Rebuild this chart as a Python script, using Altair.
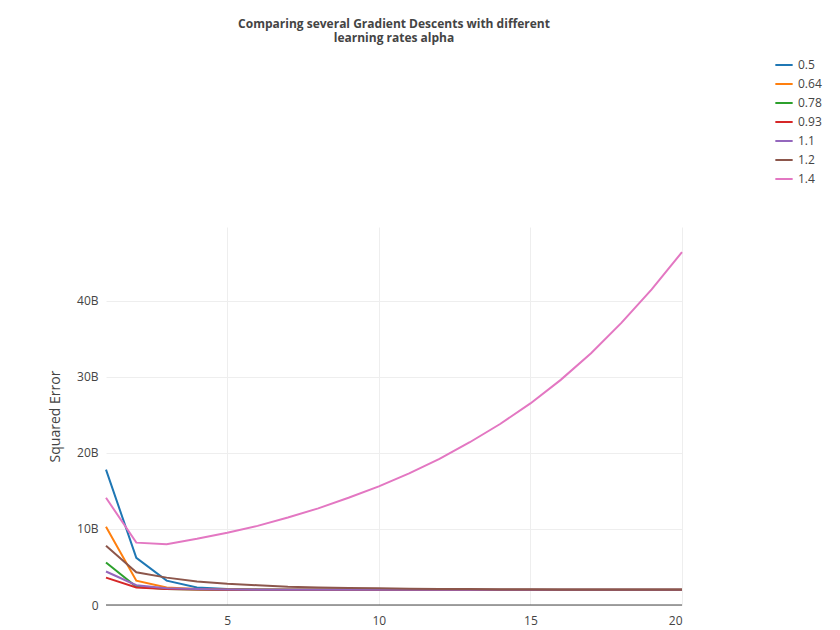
import altair as alt
import pandas as pd

iters = list(range(1, 21))
alphas = ["0.5", "0.64", "0.78", "0.93", "1.1", "1.2", "1.4"]
colors = ["#1f77b4", "#ff7f0e", "#2ca02c", "#d62728", "#9467bd", "#8c564b", "#e377c2"]

# squared error in billions
err = {
    "0.5":  [17.8, 6.2, 3.2, 2.3, 2.1, 2.05, 2.0, 2.0, 2.0, 2.0, 2.0, 2.0, 2.0, 2.0, 2.0, 2.0, 2.0, 2.0, 2.0, 2.0],
    "0.64": [10.3, 3.2, 2.3, 2.1, 2.05, 2.0, 2.0, 2.0, 2.0, 2.0, 2.0, 2.0, 2.0, 2.0, 2.0, 2.0, 2.0, 2.0, 2.0, 2.0],
    "0.78": [5.6, 2.4, 2.1, 2.05, 2.0, 2.0, 2.0, 2.0, 2.0, 2.0, 2.0, 2.0, 2.0, 2.0, 2.0, 2.0, 2.0, 2.0, 2.0, 2.0],
    "0.93": [3.6, 2.3, 2.1, 2.05, 2.0, 2.0, 2.0, 2.0, 2.0, 2.0, 2.0, 2.0, 2.0, 2.0, 2.0, 2.0, 2.0, 2.0, 2.0, 2.0],
    "1.1":  [4.4, 2.6, 2.2, 2.1, 2.05, 2.0, 2.0, 2.0, 2.0, 2.0, 2.0, 2.0, 2.0, 2.0, 2.0, 2.0, 2.0, 2.0, 2.0, 2.0],
    "1.2":  [7.8, 4.3, 3.6, 3.1, 2.8, 2.6, 2.4, 2.3, 2.25, 2.2, 2.15, 2.1, 2.1, 2.05, 2.05, 2.0, 2.0, 2.0, 2.0, 2.0],
    "1.4":  [14.1, 8.2, 8.0, 8.7, 9.5, 10.4, 11.5, 12.7, 14.1, 15.6, 17.3, 19.2, 21.4, 23.8, 26.5, 29.6, 33.1, 37.1, 41.5, 46.4],
}

rows = []
for a in alphas:
    for i, v in zip(iters, err[a]):
        rows.append({"iter": i, "alpha": a, "err": v})
df = pd.DataFrame(rows)

font = "Open Sans"

lines = alt.Chart(df).mark_line(strokeWidth=2).encode(
    x=alt.X("iter:Q", title="# of iterations", scale=alt.Scale(domain=[1, 20], nice=False),
            axis=alt.Axis(values=[5, 10, 15, 20], domain=False, ticks=False, gridColor="#eeeeee",
                          labelPadding=10, titlePadding=18, titleFontWeight="normal", titleFontSize=14)),
    y=alt.Y("err:Q", title="Squared Error", scale=alt.Scale(domain=[0, 49.7], nice=False),
            axis=alt.Axis(values=[0, 10, 20, 30, 40], domain=False, ticks=False, gridColor="#eeeeee",
                          labelExpr="datum.value == 0 ? '0' : datum.value + 'B'", labelPadding=8,
                          titlePadding=14, titleFontWeight="normal", titleFontSize=14)),
    color=alt.Color("alpha:N", sort=alphas, scale=alt.Scale(domain=alphas, range=colors),
                    legend=alt.Legend(title=None, orient="none", legendX=668, legendY=-172,
                                      symbolType="stroke", symbolStrokeWidth=2, symbolSize=300,
                                      labelFontSize=12, rowPadding=3)),
)

zero = alt.Chart(pd.DataFrame({"y": [0]})).mark_rule(color="#444444", strokeWidth=1).encode(y="y:Q")

chart = (lines + zero).properties(
    width=576, height=378,
    title=alt.Title(["Comparing several Gradient Descents with different", "learning rates alpha"],
                    fontSize=12, fontWeight="bold", color="#444444", anchor="middle", offset=10),
    padding={"left": 40, "top": 10, "right": 10, "bottom": 10},
).configure_view(stroke=None).configure_axis(
    labelFont=font, titleFont=font, labelColor="#444444", titleColor="#444444", labelFontSize=12
).configure_legend(labelFont=font, labelColor="#444444").configure_title(font=font)

chart.save("out.html", embed_options={"renderer": "svg", "actions": False})
